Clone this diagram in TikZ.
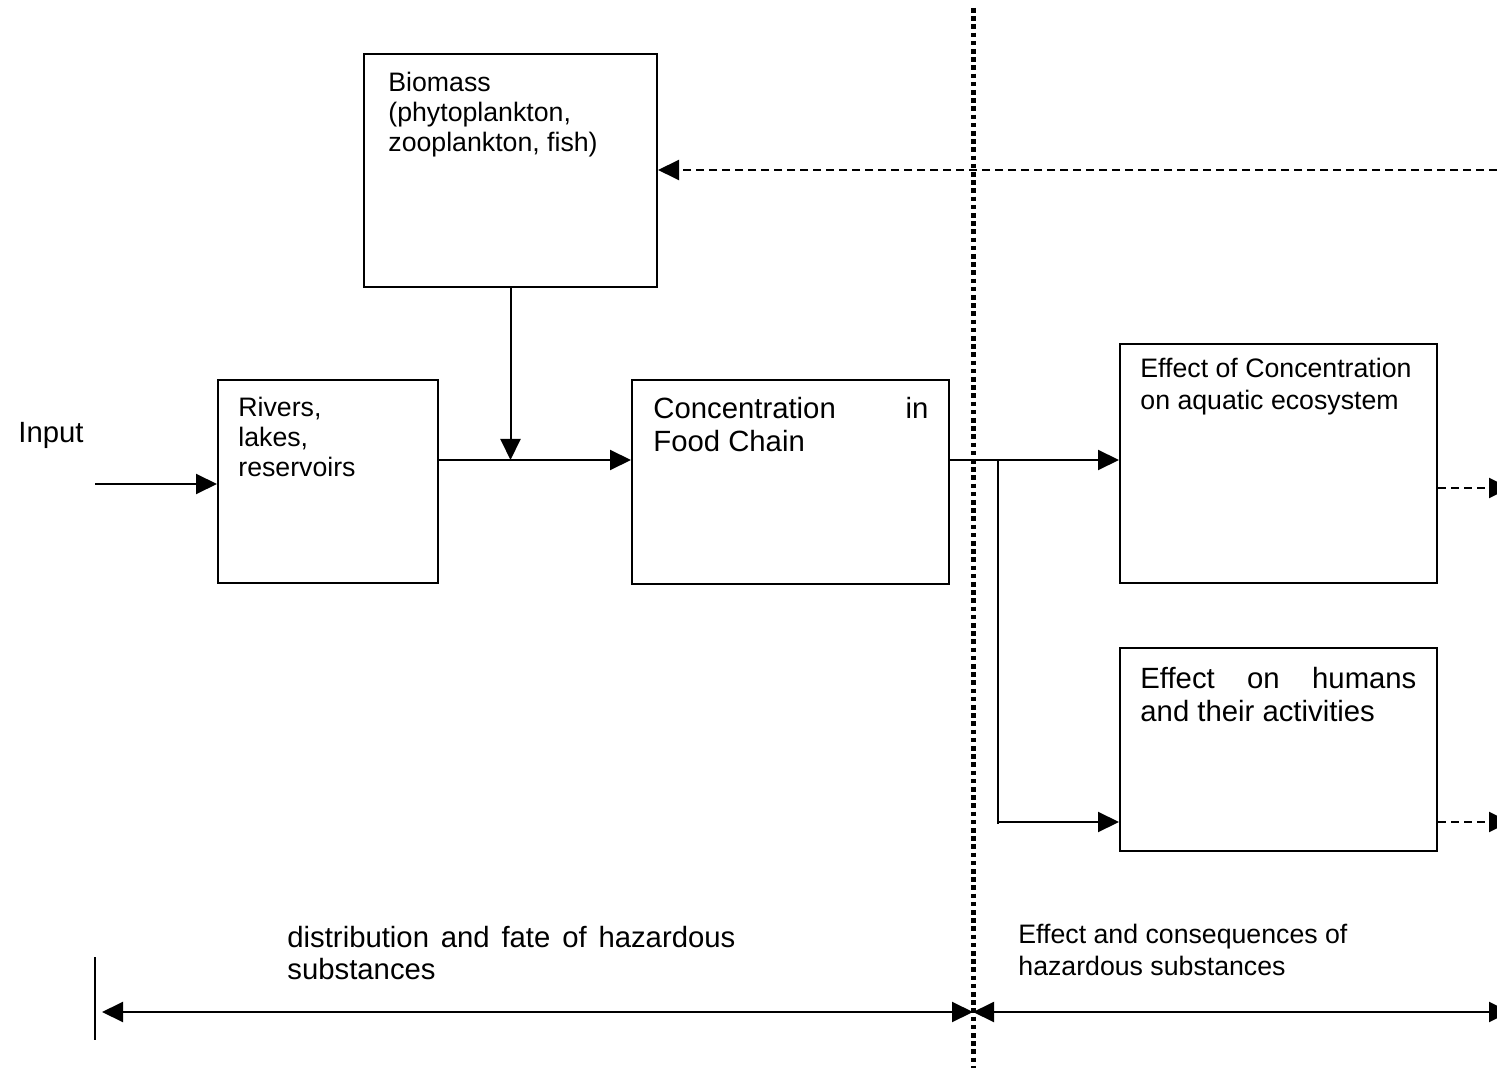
\documentclass[tikz,border=0pt]{standalone}
\usepackage{fontspec}
\setmainfont{Liberation Sans}
\usetikzlibrary{arrows.meta}
\begin{document}
\begin{tikzpicture}[x=0.5pt,y=-0.5pt,
  box/.style={draw, line width=1pt, inner sep=0pt},
  conn/.style={line width=1pt, -{Triangle[length=10.5pt,width=10pt]}},
  dconn/.style={conn, dash pattern=on 4pt off 2.5pt},
  plainline/.style={line width=1pt},
  divider/.style={line width=2.5pt, dash pattern=on 2.3pt off 1.8pt},
  lbl/.style={inner sep=0pt, anchor=base west},
  small/.style={font=\fontsize{13.35}{15}\selectfont},
  large/.style={font=\fontsize{14.65}{16.5}\selectfont}]
\useasboundingbox (0,0) rectangle (1497,1068);

% boxes
\node[box, minimum width=146.5pt, minimum height=116.5pt] (biomass) at (510.5,170.5) {};
\node[box, minimum width=110pt, minimum height=101.5pt] (rivers) at (328,481.5) {};
\node[box, minimum width=158.5pt, minimum height=102pt] (conc) at (790.5,482) {};
\node[box, minimum width=158.5pt, minimum height=119.5pt] (eff1) at (1278.5,463.5) {};
\node[box, minimum width=158.5pt, minimum height=101.5pt] (eff2) at (1278.5,749.5) {};

% texts
\node[lbl, large] (tinput) at (18,443) {Input};
\node[lbl, small] (tbio) at (388,92) {\parbox[t]{130pt}{\raggedright Biomass\\(phytoplankton,\\zooplankton, fish)}};
\node[lbl, small] (triv) at (238,417) {\parbox[t]{90pt}{\raggedright Rivers,\\lakes,\\reservoirs}};
\node[lbl, large] (tconc) at (653,419) {\parbox[t]{137.5pt}{\fontsize{14.65}{16.5}\selectfont\makebox[137.5pt][s]{Concentration in}\\Food Chain}};
\node[lbl, small] (teff1) at (1140,378) {\parbox[t]{145pt}{\fontsize{13.35}{16}\selectfont\raggedright Effect of Concentration\\on aquatic ecosystem}};
\node[lbl, large] (teff2) at (1140,688) {\parbox[t]{138pt}{\fontsize{14.65}{16.5}\selectfont\makebox[138pt][s]{Effect on humans}\\and their activities}};
\node[lbl, large] (tdist) at (287,947) {\parbox[t]{224pt}{\fontsize{14.65}{16}\selectfont\makebox[224pt][s]{distribution and fate of hazardous}\\substances}};
\node[lbl, small] (tcons) at (1018,943) {\parbox[t]{180pt}{\fontsize{13.35}{16}\selectfont\raggedright Effect and consequences of\\hazardous substances}};

% coordinates
\coordinate (inp) at (95,484);
\coordinate (feed) at (1497,170);
\coordinate (branch) at (998,460);
\coordinate (out1) at (1510,488);
\coordinate (out2) at (1510,822);
\coordinate (divtop) at (973,8);
\coordinate (divbot) at (973,1068);
\coordinate (bartop) at (95,957);
\coordinate (barbot) at (95,1040);
\coordinate (bl) at (102,1012);
\coordinate (bm) at (973,1012);
\coordinate (br) at (1510,1012);

% connectors
\draw[conn] (inp) -- (inp -| rivers.west);
\draw[conn] (rivers.east |- 0,460) -- (conc.west |- 0,460);
\draw[conn] (biomass.south) -- (biomass.south |- 0,460);
\draw[conn] (conc.east |- 0,460) -- (eff1.west |- 0,460);
\draw[plainline] (branch) -- (998,824);
\draw[conn] (branch) |- (eff2.west |- 0,822);
\draw[dconn] (feed) -- (feed -| biomass.east);
\draw[dconn] (eff1.east |- out1) -- (out1);
\draw[dconn] (eff2.east |- out2) -- (out2);

% divider and extent arrows
\draw[divider] (divtop) -- (divbot);
\draw[plainline] (bartop) -- (barbot);
\draw[conn, {Triangle[length=10.5pt,width=10pt]}-{Triangle[length=10.5pt,width=10pt]}] (bl) -- (bm);
\draw[conn, {Triangle[length=10.5pt,width=10pt]}-{Triangle[length=10.5pt,width=10pt]}] (bm) -- (br);
\end{tikzpicture}
\end{document}
